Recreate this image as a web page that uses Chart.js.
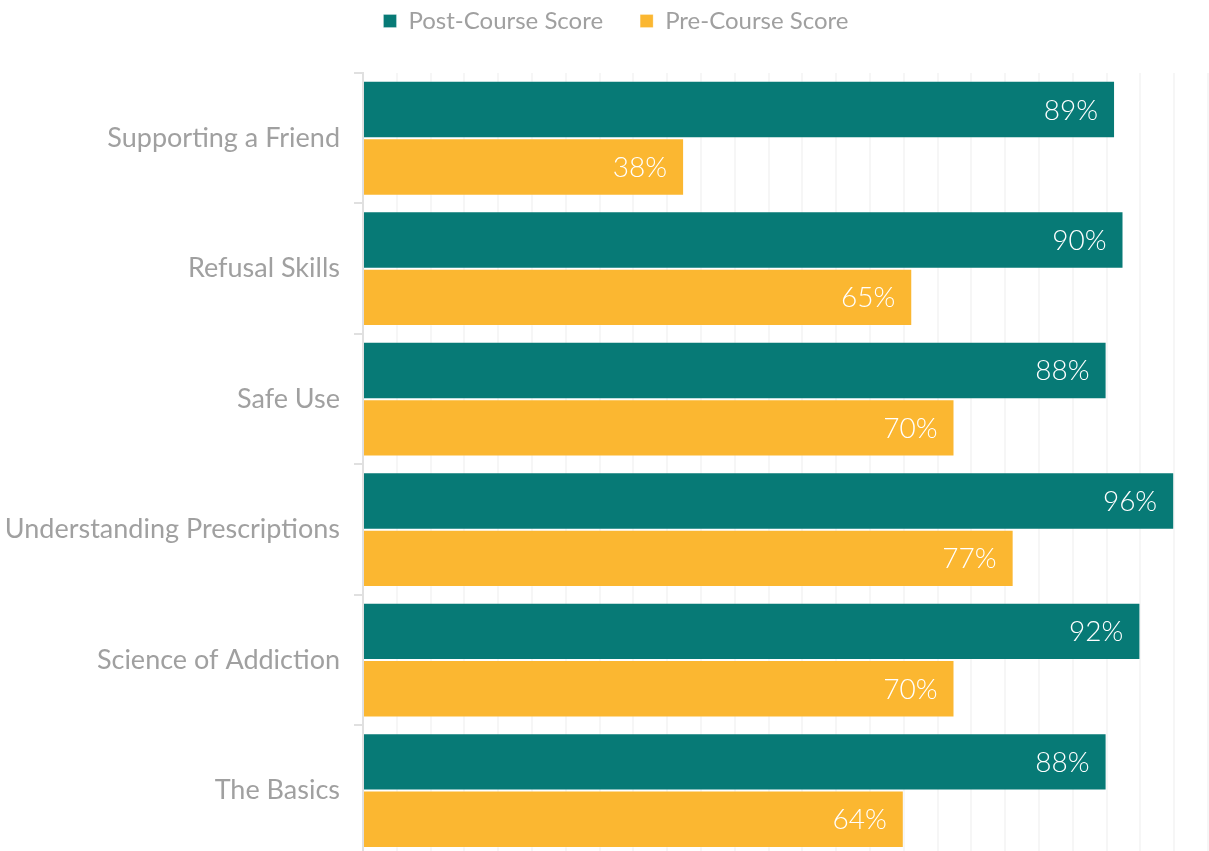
<!DOCTYPE html>
<html>
<head>
<meta charset="utf-8">
<script src="https://cdn.jsdelivr.net/npm/chart.js@4.4.1/dist/chart.umd.min.js"></script>
<style>
  html, body { margin: 0; padding: 0; background: #fff; overflow: hidden; }
  #wrap { position: relative; width: 1209px; height: 886px; }
</style>
</head>
<body>
<div id="wrap"><canvas id="c"></canvas></div>
<script>
const categories = ["Supporting a Friend", "Refusal Skills", "Safe Use", "Understanding Prescriptions", "Science of Addiction", "The Basics"];
const seriesNames = ["Post-Course Score", "Pre-Course Score"];
const postCourse = [89, 90, 88, 96, 92, 88];
const preCourse = [38, 65, 70, 77, 70, 64];
const seriesColors = ["#077A76", "#FBB731"];

const legendSpacer = {
  id: 'legendSpacer',
  beforeInit(chart) {
    const orig = chart.legend.fit;
    chart.legend.fit = function () {
      orig.call(this);
      this.height += 2;
    };
  },
  afterLayout(chart) {
    const lg = chart.legend;
    lg.top -= 28;
    lg.bottom -= 28;
    lg.left += 12;
    lg.right += 12;
  }
};

const valueLabels = {
  id: 'valueLabels',
  afterDatasetsDraw(chart) {
    const ctx = chart.ctx;
    ctx.save();
    ctx.font = '300 28px "Lato Light", Lato';
    ctx.fillStyle = '#ffffff';
    ctx.textAlign = 'right';
    ctx.textBaseline = 'middle';
    chart.data.datasets.forEach((ds, i) => {
      const meta = chart.getDatasetMeta(i);
      meta.data.forEach((bar, j) => {
        ctx.fillText(ds.data[j] + '%', bar.x - 17, bar.y + 1);
      });
    });
    ctx.restore();
  }
};

new Chart(document.getElementById('c'), {
  type: 'bar',
  data: {
    labels: categories,
    datasets: [
      { label: seriesNames[0], data: postCourse, backgroundColor: seriesColors[0], borderColor: 'rgba(255,255,255,0.25)', borderWidth: 1, categoryPercentage: 0.88, barPercentage: 1.0 },
      { label: seriesNames[1], data: preCourse, backgroundColor: seriesColors[1], borderColor: 'rgba(255,255,255,0.25)', borderWidth: 1, categoryPercentage: 0.88, barPercentage: 1.0 }
    ]
  },
  options: {
    indexAxis: 'y',
    responsive: true,
    maintainAspectRatio: false,
    animation: false,
    layout: { padding: { left: 0, right: 1, top: 0, bottom: 0 } },
    plugins: {
      legend: {
        position: 'top',
        labels: {
          boxWidth: 13,
          boxHeight: 13,
          padding: 37,
          color: '#a0a0a0',
          font: { family: 'Lato', size: 24 }
        }
      },
      tooltip: { enabled: false }
    },
    scales: {
      x: {
        min: 0,
        max: 100,
        ticks: { display: false, stepSize: 4 },
        grid: { color: '#f6f6f6', lineWidth: 2, drawTicks: false },
        border: { display: false }
      },
      y: {
        afterFit(scale) { scale.width = 363; },
        ticks: { color: '#a0a0a0', font: { family: 'Lato', size: 27 }, padding: 14 },
        grid: { drawOnChartArea: false, drawTicks: true, tickLength: 9, color: '#e0e0e0', lineWidth: 2 },
        border: { color: '#e0e0e0', width: 2 }
      }
    }
  },
  plugins: [legendSpacer, valueLabels]
});
</script>
</body>
</html>
